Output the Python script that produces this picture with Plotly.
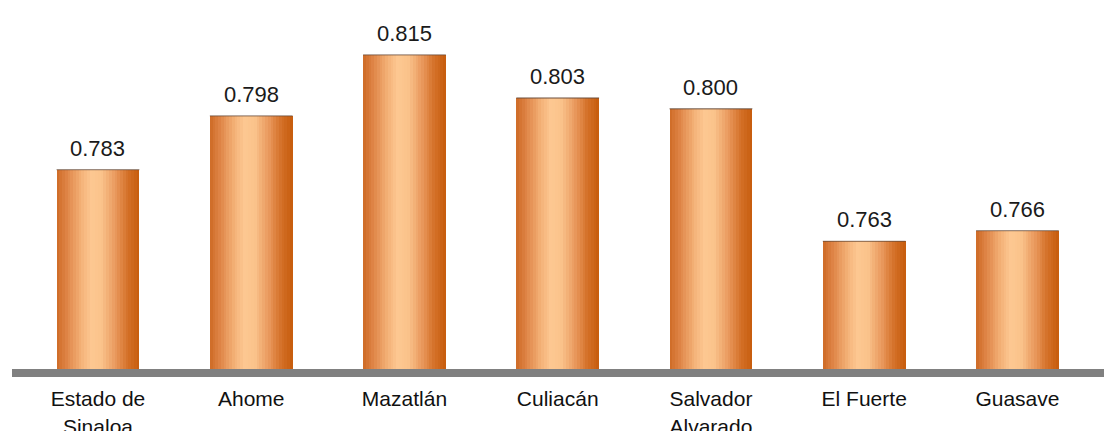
import plotly.graph_objects as go

categories = ["Estado de<br>Sinaloa", "Ahome", "Mazatlán", "Culiacán",
              "Salvador<br>Alvarado", "El Fuerte", "Guasave"]
values = [0.783, 0.798, 0.815, 0.803, 0.800, 0.763, 0.766]

# horizontal "cylinder" gradient stops (position across bar, rgb)
stops = [(0.00, (206, 106, 38)), (0.12, (222, 132, 70)), (0.30, (244, 178, 120)),
         (0.42, (253, 200, 146)), (0.55, (250, 194, 138)), (0.72, (232, 150, 90)),
         (0.86, (212, 112, 40)), (1.00, (198, 92, 12))]


def color_at(t):
    for (p0, c0), (p1, c1) in zip(stops[:-1], stops[1:]):
        if p0 <= t <= p1:
            f = (t - p0) / (p1 - p0) if p1 > p0 else 0
            c = [round(a + (b - a) * f) for a, b in zip(c0, c1)]
            return f"rgb({c[0]},{c[1]},{c[2]})"
    return "rgb(%d,%d,%d)" % stops[-1][1]


xs = list(range(len(categories)))
bar_w = 0.54
n_slices = 30
slice_w = bar_w / n_slices

fig = go.Figure()
for k in range(n_slices):
    t = (k + 0.5) / n_slices
    fig.add_trace(go.Bar(
        x=xs, y=values,
        width=slice_w * 1.6 if k < n_slices - 1 else slice_w,
        offset=-bar_w / 2 + k * slice_w,
        marker=dict(color=color_at(t), line=dict(width=0)),
        hoverinfo="skip", showlegend=False,
    ))

# thin dark top edge of each bar
fig.add_trace(go.Scatter(
    x=xs, y=values, mode="markers",
    marker=dict(size=1, opacity=0),
    error_x=dict(type="constant", value=bar_w / 2, width=0, thickness=1.3,
                 color="rgba(105,75,55,0.65)"),
    hoverinfo="skip", showlegend=False,
))

for x, v in zip(xs, values):
    fig.add_annotation(x=x, y=v, text=f"{v:.3f}", showarrow=False,
                       yanchor="bottom", yshift=7,
                       font=dict(family="Liberation Sans, Arial", size=22, color="#1a1a1a"))

# page body has an 8px margin, so the figure is sized/placed to compensate
y0 = 0.7274
y1 = 0.8281
fig.update_layout(
    width=1104, height=423,
    margin=dict(l=4, r=0, t=0, b=62, autoexpand=False),
    paper_bgcolor="white", plot_bgcolor="white",
    barmode="overlay", bargap=0,
    xaxis=dict(
        range=[-0.561, 6.617], tickmode="array", tickvals=xs, ticktext=categories,
        showgrid=False, zeroline=False, showline=True, linecolor="#808080",
        linewidth=8, ticks="", ticklabelstandoff=4, automargin=False,
        tickfont=dict(family="Liberation Sans, Arial", size=21, color="#111111"),
        fixedrange=True,
    ),
    yaxis=dict(range=[y0, y1], visible=False, showgrid=False, zeroline=False,
               automargin=False),
    font=dict(family="Liberation Sans, Arial"),
)

fig.write_html("out.html")
